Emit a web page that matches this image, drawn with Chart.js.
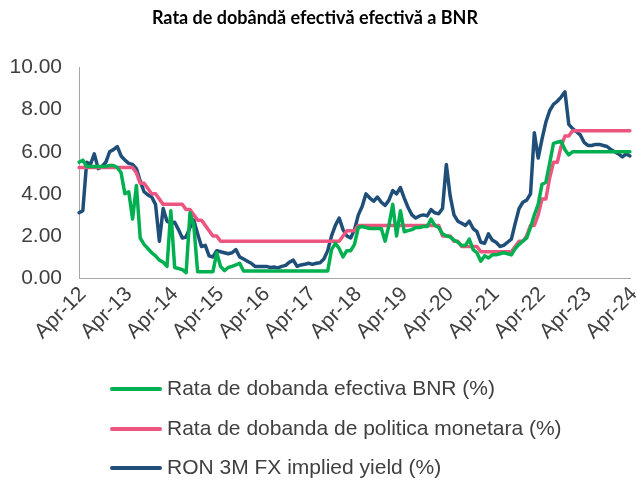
<!DOCTYPE html>
<html>
<head>
<meta charset="utf-8">
<script src="https://cdn.jsdelivr.net/npm/chart.js@4"></script>
<style>
  html, body { margin: 0; padding: 0; background: #ffffff; }
</style>
</head>
<body>
<canvas id="chart" width="638" height="480"></canvas>
<script>
// Monthly labels Apr-12 .. Apr-24
const monthNames = ['Jan', 'Feb', 'Mar', 'Apr', 'May', 'Jun', 'Jul', 'Aug', 'Sep', 'Oct', 'Nov', 'Dec'];
const labels = [];
for (let i = 0; i < 145; i++) {
    const mi = (3 + i) % 12;
    const yr = 12 + Math.floor((3 + i) / 12);
    labels.push(monthNames[mi] + '-' + yr);
}

const yTicks = [0, 2, 4, 6, 8, 10];

// Rata de dobanda efectiva BNR (%)
const effectiveRate = [
    5.5, 5.6, 5.3, 5.3, 5.3, 5.3, 5.3, 5.3, 5.35, 5.35, 5.25, 5.0,
    4.0, 4.1, 2.8, 4.4, 1.9, 1.6, 1.4, 1.2, 1.05, 0.85, 0.75, 0.55,
    3.2, 0.5, 0.45, 0.4, 0.25, 3.1, 2.5, 0.3, 0.3, 0.3, 0.3, 0.3,
    1.2, 0.55, 0.35, 0.5, 0.55, 0.62, 0.7, 0.33, 0.33, 0.33, 0.33, 0.33,
    0.33, 0.33, 0.33, 0.33, 0.33, 0.33, 0.33, 0.33, 0.33, 0.33, 0.33, 0.33,
    0.33, 0.33, 0.33, 0.33, 0.33, 0.33, 1.35, 1.65, 1.4, 1.0, 1.3, 1.3,
    1.6, 2.4, 2.45, 2.4, 2.35, 2.35, 2.35, 2.35, 1.75, 2.5, 3.5, 2.0,
    3.2, 2.2, 2.25, 2.3, 2.4, 2.4, 2.45, 2.45, 2.8, 2.5, 2.4, 2.1,
    2.0, 1.95, 1.8, 1.7, 1.55, 1.55, 1.85, 1.35, 1.2, 0.8, 1.05, 0.95,
    1.1, 1.1, 1.15, 1.2, 1.15, 1.1, 1.4, 1.6, 1.75, 1.9, 2.4, 3.0,
    3.5, 4.45, 4.55, 5.45, 6.4, 6.45, 6.5, 6.1, 5.85, 6.0, 6.0, 6.0,
    6.0, 6.0, 6.0, 6.0, 6.0, 6.0, 6.0, 6.0, 6.0, 6.0, 6.0, 6.0,
    6.0
];

// Rata de dobanda de politica monetara (%)
const policyRate = [
    5.25, 5.25, 5.25, 5.25, 5.25, 5.25, 5.25, 5.25, 5.25, 5.25, 5.25, 5.25,
    5.25, 5.25, 5.25, 5.0, 4.5, 4.5, 4.25, 4.0, 4.0, 3.75, 3.5, 3.5,
    3.5, 3.5, 3.5, 3.5, 3.25, 3.25, 3.0, 2.75, 2.75, 2.5, 2.25, 2.0,
    2.0, 1.75, 1.75, 1.75, 1.75, 1.75, 1.75, 1.75, 1.75, 1.75, 1.75, 1.75,
    1.75, 1.75, 1.75, 1.75, 1.75, 1.75, 1.75, 1.75, 1.75, 1.75, 1.75, 1.75,
    1.75, 1.75, 1.75, 1.75, 1.75, 1.75, 1.75, 1.75, 1.75, 2.0, 2.25, 2.25,
    2.25, 2.5, 2.5, 2.5, 2.5, 2.5, 2.5, 2.5, 2.5, 2.5, 2.5, 2.5,
    2.5, 2.5, 2.5, 2.5, 2.5, 2.5, 2.5, 2.5, 2.5, 2.5, 2.5, 2.0,
    2.0, 2.0, 1.75, 1.75, 1.5, 1.5, 1.5, 1.5, 1.5, 1.25, 1.25, 1.25,
    1.25, 1.25, 1.25, 1.25, 1.25, 1.25, 1.5, 1.75, 1.75, 2.0, 2.5, 2.5,
    3.0, 3.75, 3.75, 4.75, 5.5, 5.5, 6.25, 6.75, 6.75, 7.0, 7.0, 7.0,
    7.0, 7.0, 7.0, 7.0, 7.0, 7.0, 7.0, 7.0, 7.0, 7.0, 7.0, 7.0,
    7.0
];

// RON 3M FX implied yield (%)
const impliedYield = [
    3.1, 3.2, 5.5, 5.4, 5.9, 5.2, 5.3, 5.5, 6.0, 6.1, 6.25, 5.8,
    5.6, 5.45, 5.4, 5.2, 4.6, 4.1, 3.95, 3.85, 3.5, 1.75, 3.3, 2.7,
    2.6, 2.65, 2.3, 1.9, 1.95, 2.4, 2.75, 2.1, 1.5, 1.55, 1.05, 1.0,
    1.3, 1.25, 1.2, 1.15, 1.2, 1.35, 1.0, 0.9, 0.8, 0.7, 0.55, 0.55,
    0.55, 0.55, 0.5, 0.52, 0.48, 0.55, 0.6, 0.75, 0.85, 0.55, 0.62, 0.65,
    0.7, 0.65, 0.7, 0.72, 0.9, 1.3, 2.0, 2.5, 2.85, 2.3, 2.0, 1.9,
    2.3, 3.0, 3.4, 4.0, 3.8, 3.65, 3.85, 3.6, 3.45, 3.7, 4.15, 4.0,
    4.3, 3.8, 3.35, 3.0, 2.85, 2.95, 3.0, 2.95, 3.25, 3.1, 3.05, 3.3,
    5.4, 3.9, 3.0, 2.7, 2.6, 2.5, 2.7, 2.35, 2.2, 1.7, 1.65, 2.1,
    1.8, 1.7, 1.5, 1.55, 1.7, 1.85, 2.6, 3.3, 3.6, 3.7, 4.0, 6.9,
    5.7, 6.6, 7.4, 7.95, 8.25, 8.4, 8.6, 8.85, 7.3, 7.1, 6.95, 6.8,
    6.45, 6.3, 6.3, 6.35, 6.35, 6.3, 6.25, 6.1, 6.0, 5.9, 5.75, 5.9,
    5.8
];

const textColor = '#404040';
const tickFont = { family: "'Liberation Sans', Arial, sans-serif", size: 21 };

// legend drawn as a vertical list under the axis
const listLegend = {
    id: 'listLegend',
    afterDraw(chart) {
        const ctx = chart.ctx;
        const rows = [389, 429, 468];
        ctx.save();
        chart.data.datasets.forEach((ds, i) => {
            const y = rows[i];
            ctx.strokeStyle = ds.borderColor;
            ctx.lineWidth = 4;
            ctx.lineCap = 'round';
            ctx.beginPath();
            ctx.moveTo(112, y);
            ctx.lineTo(160, y);
            ctx.stroke();
            ctx.fillStyle = textColor;
            ctx.font = '21px "Liberation Sans", Arial, sans-serif';
            ctx.textBaseline = 'middle';
            ctx.textAlign = 'left';
            ctx.fillText(ds.label, 167, y);
        });
        ctx.restore();
    }
};

new Chart(document.getElementById('chart'), {
    type: 'line',
    data: {
        labels: labels,
        datasets: [
            { label: 'Rata de dobanda efectiva BNR (%)', data: effectiveRate, borderColor: '#00B050' },
            { label: 'Rata de dobanda de politica monetara (%)', data: policyRate, borderColor: '#EC5580' },
            { label: 'RON 3M FX implied yield (%)', data: impliedYield, borderColor: '#1F4E79' }
        ].map(d => Object.assign(d, {
            borderWidth: 3.5,
            pointRadius: 0,
            tension: 0,
            fill: false,
            borderJoinStyle: 'round',
            borderCapStyle: 'round'
        }))
    },
    options: {
        responsive: false,
        animation: false,
        devicePixelRatio: 1,
        layout: { padding: { left: 0, right: 8, top: 0, bottom: 0 } },
        plugins: {
            legend: { display: false },
            tooltip: { enabled: false },
            title: {
                display: true,
                text: 'Rata de dobândă efectivă efectivă a BNR',
                color: '#000000',
                font: { family: 'Lato, sans-serif', weight: 'bold', size: 18 },
                padding: { top: 7, bottom: 39 }
            }
        },
        scales: {
            x: {
                grid: { display: false, drawTicks: false },
                border: { display: true, color: '#a6a6a6', width: 1 },
                ticks: {
                    autoSkip: false,
                    maxRotation: 45,
                    minRotation: 45,
                    padding: 4,
                    labelOffset: 4,
                    color: textColor,
                    font: tickFont,
                    callback: function (val, idx) {
                        return idx % 12 === 0 ? this.getLabelForValue(val) : null;
                    }
                },
                afterFit: s => { s.height = 202; s.paddingLeft = 0; s.paddingRight = 0; }
            },
            y: {
                min: 0,
                max: 10,
                grid: { display: false, drawTicks: false },
                border: { display: true, color: '#a6a6a6', width: 1 },
                afterBuildTicks: s => { s.ticks = yTicks.map(v => ({ value: v })); },
                afterFit: s => { s.width = 79; },
                ticks: {
                    padding: 17,
                    color: textColor,
                    font: tickFont,
                    callback: v => v.toFixed(2)
                }
            }
        }
    },
    plugins: [listLegend]
});
</script>
</body>
</html>
